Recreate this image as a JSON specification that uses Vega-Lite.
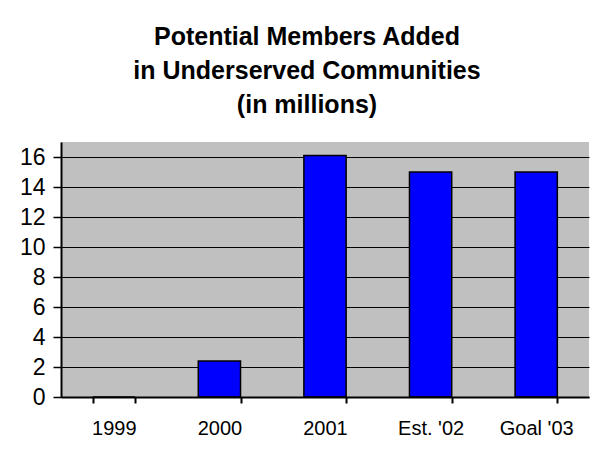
{
  "$schema": "https://vega.github.io/schema/vega-lite/v6.json",
  "width": 528,
  "height": 255,
  "autosize": {"type": "none"},
  "padding": {"left": 61, "top": 142, "right": 7, "bottom": 53},
  "background": "white",
  "title": {
    "text": ["Potential Members Added", "in Underserved Communities", "(in millions)"],
    "font": "Liberation Sans",
    "fontSize": 25,
    "fontWeight": "bold",
    "lineHeight": 34,
    "color": "black",
    "anchor": "middle",
    "dx": -18,
    "offset": 24
  },
  "data": {
    "values": [
      {"year": "1999", "members": 0},
      {"year": "2000", "members": 2.4},
      {"year": "2001", "members": 16.1},
      {"year": "Est. '02", "members": 15.0},
      {"year": "Goal '03", "members": 15.0}
    ]
  },
  "mark": {"type": "bar", "color": "#0000FF", "stroke": "black", "strokeWidth": 1.5},
  "encoding": {
    "x": {
      "field": "year",
      "type": "nominal",
      "sort": null,
      "scale": {"paddingInner": 0.6, "paddingOuter": 0.3},
      "axis": {
        "title": null,
        "zindex": 1,
        "labelAngle": 0,
        "labelFont": "Liberation Sans",
        "labelFontSize": 20,
        "labelColor": "black",
        "labelPadding": 15,
        "tickBand": "extent",
        "tickColor": "black",
        "tickSize": 6,
        "tickWidth": 2,
        "domainColor": "black",
        "domainWidth": 2,
        "grid": false
      }
    },
    "y": {
      "field": "members",
      "type": "quantitative",
      "scale": {"domain": [0, 17], "nice": false},
      "axis": {
        "title": null,
        "values": [0, 2, 4, 6, 8, 10, 12, 14, 16],
        "labelFont": "Liberation Sans",
        "labelFontSize": 23,
        "labelColor": "black",
        "labelPadding": 8,
        "tickColor": "black",
        "tickSize": 8,
        "tickWidth": 1.5,
        "domainColor": "black",
        "domainWidth": 2,
        "grid": true,
        "gridColor": "black",
        "gridWidth": 1,
        "gridOpacity": 1
      }
    }
  },
  "config": {
    "view": {"fill": "#C0C0C0", "stroke": null}
  }
}
